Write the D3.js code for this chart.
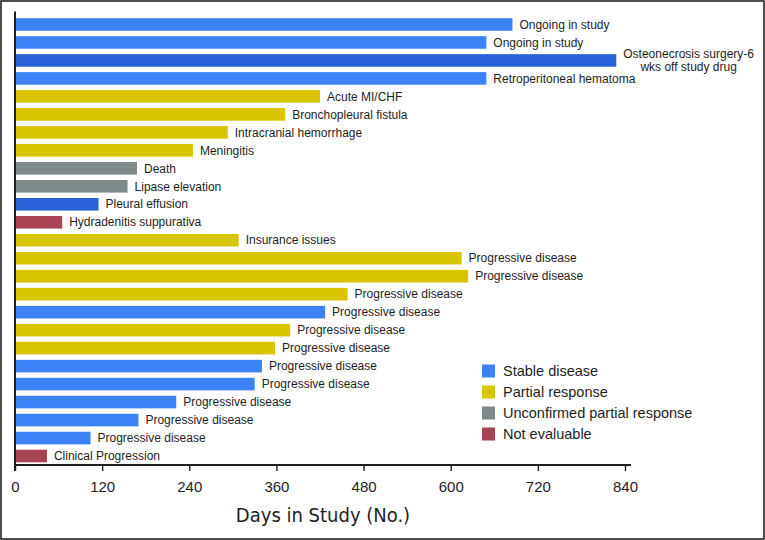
<!DOCTYPE html>
<html>
<head>
<meta charset="utf-8">
<script src="https://cdn.jsdelivr.net/npm/d3@7"></script>
<style>
  html, body { margin: 0; padding: 0; background: #fff; }
  svg { display: block; font-family: "Liberation Sans", Arial, Helvetica, sans-serif; }
</style>
</head>
<body>
<svg id="chart" width="765" height="540"></svg>
<script>
// ---- data (top to bottom) ----
const days = [685, 649, 828, 649, 420, 372, 293, 245, 168, 155, 115, 65, 308,
              615, 624, 458, 427, 379, 358, 340, 330, 222, 170, 104, 44];
const responses = ["SD", "SD", "SDd", "SD", "PR", "PR", "PR", "PR", "uPR", "uPR", "SDd", "NE", "PR",
                   "PR", "PR", "PR", "SD", "PR", "PR", "SD", "SD", "SD", "SD", "SD", "NE"];
const reasons = ["Ongoing in study", "Ongoing in study", "Osteonecrosis surgery-6|wks off study drug",
  "Retroperitoneal hematoma", "Acute MI/CHF", "Bronchopleural fistula", "Intracranial hemorrhage",
  "Meningitis", "Death", "Lipase elevation", "Pleural effusion", "Hydradenitis suppurativa",
  "Insurance issues", "Progressive disease", "Progressive disease", "Progressive disease",
  "Progressive disease", "Progressive disease", "Progressive disease", "Progressive disease",
  "Progressive disease", "Progressive disease", "Progressive disease", "Progressive disease",
  "Clinical Progression"];
const xTicks = [0, 120, 240, 360, 480, 600, 720, 840];
const legendKeys = ["SD", "PR", "uPR", "NE"];
const legendLabels = ["Stable disease", "Partial response", "Unconfirmed partial response", "Not evaluable"];
const xTitle = "Days in Study (No.)";

// ---- styles ----
const colors = { SD: "#3b83f6", SDd: "#2962d6", PR: "#d9c400", uPR: "#7e8b8a", NE: "#a84354" };
const ink = "#1e1e1e";

const svg = d3.select("#chart");
const W = 765, H = 540;

svg.append("rect").attr("x", 1).attr("y", 1).attr("width", W - 2).attr("height", H - 2)
  .attr("fill", "#fff").attr("stroke", "#222").attr("stroke-width", 1.6);

const x = d3.scaleLinear().domain([0, 840]).range([15, 625]);
const y = d3.scaleBand().domain(d3.range(days.length)).range([15.5, 465])
  .paddingInner(0.3).paddingOuter(0.15);
const axisY = 465;

// bars
svg.append("g").selectAll("rect").data(days).join("rect")
  .attr("x", x(0))
  .attr("y", (d, i) => y(i))
  .attr("width", d => x(d) - x(0))
  .attr("height", y.bandwidth())
  .attr("fill", (d, i) => colors[responses[i]]);

// labels
const lab = svg.append("g").attr("font-size", 12).attr("fill", ink);
days.forEach((d, i) => {
  const parts = reasons[i].split("|");
  const cy = y(i) + y.bandwidth() / 2;
  if (parts.length === 1) {
    lab.append("text").attr("x", x(d) + 7).attr("y", cy).attr("dy", "0.35em").text(parts[0]);
  } else {
    const t1 = lab.append("text").attr("y", cy - 6.4).attr("dy", "0.35em").attr("text-anchor", "middle").text(parts[0]);
    const w = t1.node().getComputedTextLength();
    const cx = x(d) + 7 + w / 2;
    t1.attr("x", cx);
    lab.append("text").attr("x", cx).attr("y", cy + 6.4).attr("dy", "0.35em").attr("text-anchor", "middle").text(parts[1]);
  }
});

// x axis
const xAxis = d3.axisBottom(x).tickValues(xTicks).tickSize(6).tickPadding(10).tickFormat(d3.format("d"));
const gx = svg.append("g").attr("transform", `translate(0,${axisY})`).call(xAxis);
gx.select(".domain").remove();
gx.selectAll(".tick line").attr("stroke", ink).attr("stroke-width", 1.4);
gx.selectAll(".tick text").attr("font-size", 15).attr("fill", ink)
  .attr("font-family", "'Liberation Sans', Arial, sans-serif");
gx.append("line").attr("x1", x(0)).attr("x2", x(840) + 6).attr("y1", 0).attr("y2", 0)
  .attr("stroke", ink).attr("stroke-width", 2);

// y axis line
svg.append("line").attr("x1", x(0)).attr("x2", x(0)).attr("y1", 11.5).attr("y2", axisY + 6)
  .attr("stroke", ink).attr("stroke-width", 2);

// x title
svg.append("text").attr("x", (x(0) + x(840)) / 2 + 3).attr("y", 522)
  .attr("text-anchor", "middle").attr("font-size", 20).attr("fill", ink)
  .attr("font-family", "'DejaVu Sans Condensed', 'Liberation Sans Narrow', sans-serif")
  .attr("font-stretch", "condensed")
  .text(xTitle);

// legend
const lg = svg.append("g").attr("transform", "translate(482,364.5)");
legendKeys.forEach((k, i) => {
  const row = lg.append("g").attr("transform", `translate(0,${i * 21})`);
  row.append("rect").attr("width", 13).attr("height", 13).attr("fill", colors[k]);
  row.append("text").attr("x", 21).attr("y", 6.5).attr("dy", "0.35em")
    .attr("font-size", 14.5).attr("fill", ink).text(legendLabels[i]);
});
</script>
</body>
</html>
